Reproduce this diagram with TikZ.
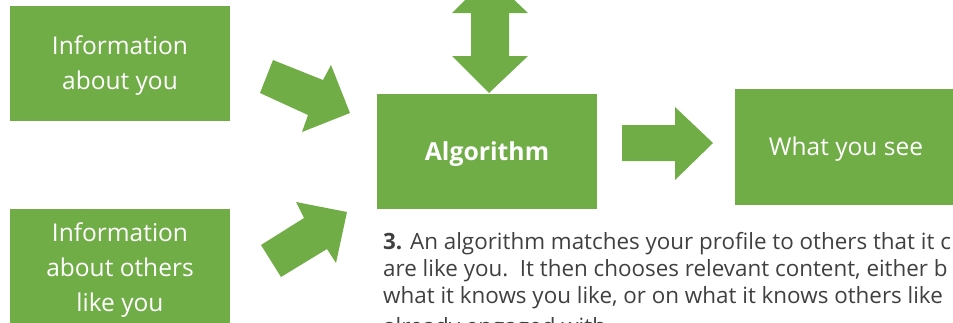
\documentclass[tikz,border=0pt]{standalone}
\usepackage{fontspec}
\setmainfont{Open Sans}
\definecolor{leaf}{HTML}{70AD47}
\definecolor{inktext}{HTML}{404040}
\begin{document}
\begin{tikzpicture}[x=1pt,y=-1pt,
  greenbox/.style={fill=leaf,draw=none,inner sep=0pt,text=white,align=center,
    font=\fontsize{24.5}{35}\selectfont},
  blockarrow/.style={fill=leaf,draw=none},
  bodytext/.style={anchor=base west,inner sep=0pt,text=inktext,
    font=\fontsize{22.4}{27}\selectfont}]
\useasboundingbox (0,0) rectangle (953,322);
\clip (0,0) rectangle (953,322);

% boxes
\path[fill=leaf] (10,6) rectangle (230,121);
\node[greenbox] (you) at (120,66) {Information\\about you};
\path[fill=leaf] (10,209) rectangle (230,330);
\node[greenbox] (others) at (120,270) {Information\\about others\\like you};
\path[fill=leaf] (377,94) rectangle (597,209);
\node[greenbox,font=\fontsize{24.8}{28}\bfseries] (algo) at (487,154) {Algorithm};
\path[fill=leaf] (735,89) rectangle (955,205);
\node[greenbox] (see) at (846,149) {What you see};

% block arrows
\fill[blockarrow] (260,93) -- (273,60) -- (323,80) -- (331,65) -- (350,113)
  -- (302,132) -- (308,115) -- cycle;
\fill[blockarrow] (261,245) -- (304,218) -- (296,202) -- (347,212)
  -- (336,263) -- (327,249) -- (281,277) -- cycle;
\fill[blockarrow] (622,125) -- (675,125) -- (675,107) -- (713,143)
  -- (675,180) -- (675,161) -- (622,161) -- cycle;
\fill[blockarrow] (489,-24) -- (528,13) -- (509,13) -- (509,56) -- (528,56)
  -- (489,93) -- (452,56) -- (471,56) -- (471,13) -- (452,13) -- cycle;

% caption
\node[bodytext] (l1) at (383,249) {\textbf{3.} An algorithm matches your profile to others that it c};
\node[bodytext] (l2) at (383,276) {are like you.\ \ It then chooses relevant content, either b};
\node[bodytext] (l3) at (383,303) {what it knows you like, or on what it knows others like};
\node[bodytext] (l4) at (383,334) {already engaged with.};
\end{tikzpicture}
\end{document}
